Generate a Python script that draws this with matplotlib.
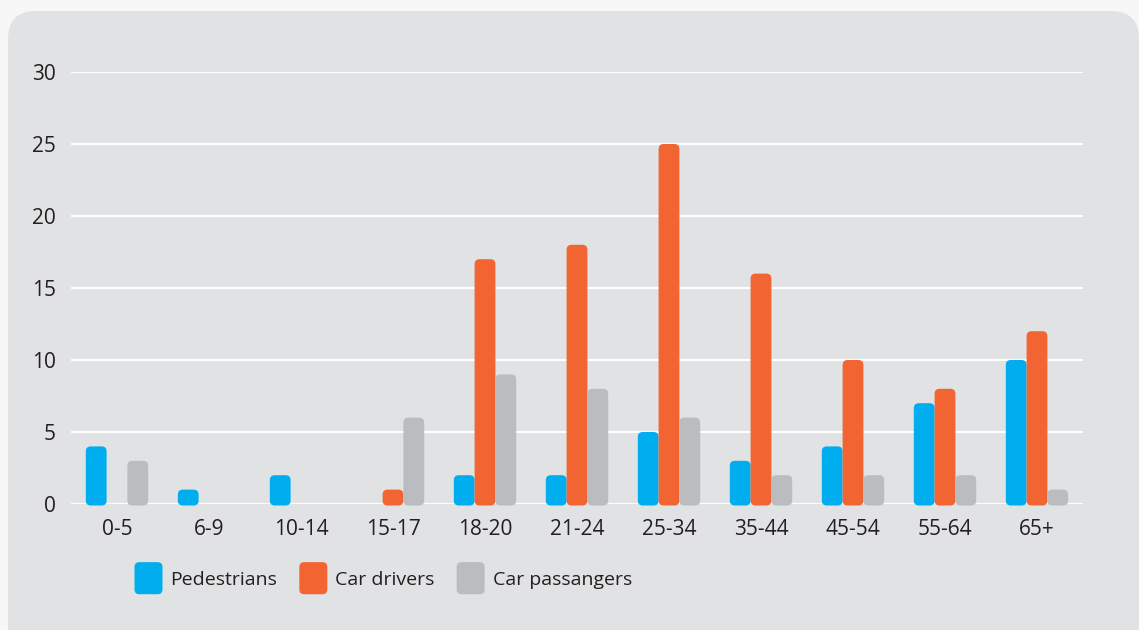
import matplotlib
matplotlib.use("Agg")
from matplotlib import pyplot as plt
from matplotlib.patches import FancyBboxPatch, Patch
from matplotlib.legend_handler import HandlerPatch
import numpy as np

age_groups = ["0-5", "6-9", "10-14", "15-17", "18-20", "21-24", "25-34", "35-44", "45-54", "55-64", "65+"]
pedestrians = [4, 1, 2, 0, 2, 2, 5, 3, 4, 7, 10]
car_drivers = [0, 0, 0, 1, 17, 18, 25, 16, 10, 8, 12]
car_passangers = [3, 0, 0, 6, 9, 8, 6, 2, 2, 2, 1]

series = [
    ("Pedestrians", pedestrians, "#00aeef"),
    ("Car drivers", car_drivers, "#f26532"),
    ("Car passangers", car_passangers, "#bbbcbf"),
]

W, H, DPI = 1139, 630, 100
FS = 15
plt.rcParams["font.family"] = ["Open Sans", "DejaVu Sans"]

fig = plt.figure(figsize=(W / DPI, H / DPI), dpi=DPI, facecolor="#f7f7f7")

# grey rounded panel behind the chart, bottom edge runs off the figure
panel = FancyBboxPatch((8 / W, -30 / H), (W - 8) / W, (H - 11 + 30) / H,
                       boxstyle=f"round,pad=0,rounding_size={28 / W}",
                       transform=fig.transFigure, facecolor="#e1e2e4",
                       edgecolor="none", mutation_aspect=W / H, zorder=-10)
fig.patches.append(panel)

ax = fig.add_axes([71 / W, (H - 504) / H, (1083 - 71) / W, 432 / H])
ax.set_facecolor("none")
ax.set_xlim(-0.5, len(age_groups) - 0.5)
ax.set_ylim(0, 30)

x = np.arange(len(age_groups))
width = 0.226
# corner radius in pixels converted to each axis
px_x = 1012 / len(age_groups)
px_y = 432 / 30
radius = 5 / px_x
aspect = px_x / px_y

for i, (name, vals, color) in enumerate(series):
    bars = ax.bar(x + (i - 1) * width, vals, width, color=color, label=name)
    for b in bars:
        b.set_visible(False)
        if b.get_height() <= 0:
            continue
        ax.add_patch(FancyBboxPatch(
            (b.get_x(), b.get_y() - 1.5 / px_y), b.get_width(), b.get_height() + 1.5 / px_y,
            boxstyle=f"round,pad=0,rounding_size={radius}",
            mutation_aspect=aspect, facecolor=color, edgecolor="none",
            zorder=3, clip_on=False))

ax.set_yticks(range(0, 31, 5))
ax.grid(axis="y", color="white", linewidth=1.4, zorder=1)
ax.set_axisbelow(True)
for s in ax.spines.values():
    s.set_visible(False)
ax.set_xticks(x)
ax.set_xticklabels(age_groups)
ax.tick_params(length=0, labelsize=FS, colors="#231f20")
ax.tick_params(axis="y", pad=11)
ax.tick_params(axis="x", pad=11)


def rounded_handle(legend, orig_handle, xdescent, ydescent, width, height, fontsize):
    # taller than the default legend box, kept centred on the label
    h = 1.65 * fontsize
    y0 = -ydescent + (height - h) / 2
    return FancyBboxPatch((-xdescent, y0), width, h,
                          boxstyle="round,pad=0,rounding_size=3.5")


handles = [Patch(facecolor=c, edgecolor="none", label=n) for n, _, c in series]
ax.legend(handles=handles, ncol=3, frameon=False, fontsize=14,
          loc="center left", bbox_to_anchor=(117 / W, (H - 580) / H),
          bbox_transform=fig.transFigure,
          handlelength=1.44, handletextpad=0.41,
          columnspacing=1.13, labelcolor="#231f20",
          handler_map={Patch: HandlerPatch(patch_func=rounded_handle)})

fig.savefig("out.png", dpi=DPI, facecolor=fig.get_facecolor())
